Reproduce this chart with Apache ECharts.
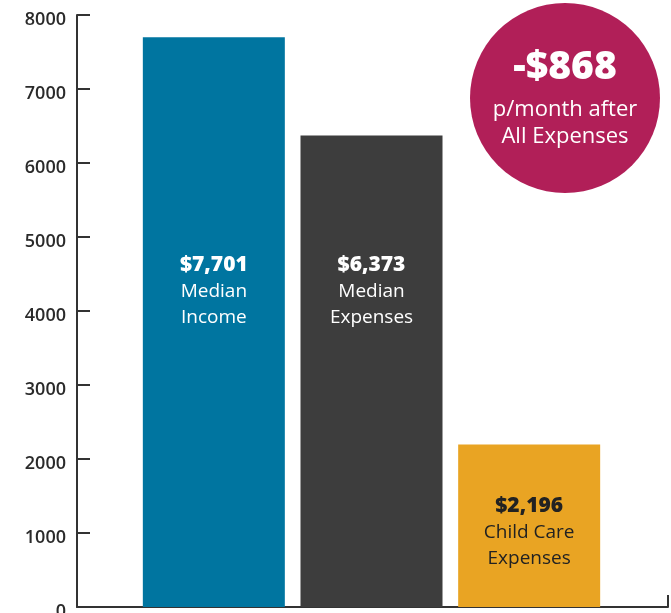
<!DOCTYPE html>
<html>
<head>
<meta charset="utf-8">
<script src="https://cdn.jsdelivr.net/npm/echarts@6/dist/echarts.min.js"></script>
<style>
  html, body { margin: 0; padding: 0; background: #fff; }
  #chart { width: 671px; height: 613px; }
</style>
</head>
<body>
<div id="chart"></div>
<script>
var amounts = ['$7,701', '$6,373', '$2,196'];
var categories = ['Median\nIncome', 'Median\nExpenses', 'Child Care\nExpenses'];
var values = [7701, 6373, 2196];
var barColors = ['#0075a0', '#3d3d3d', '#e9a423'];
var labelColors = ['#ffffff', '#ffffff', '#222222'];
var yTicks = [0, 8000, 1000]; // min, max, interval
var callout = ['-$868', 'p/month after', 'All Expenses'];

// label top offset from each bar's top edge (px)
var labelTop = [215, 117, 49];

var font = '"Open Sans", "Noto Sans", sans-serif';
var chart = echarts.init(document.getElementById('chart'));

var barData = values.map(function (v, i) {
  return {
    value: v,
    itemStyle: { color: barColors[i] },
    label: {
      position: ['50%', labelTop[i]],
      color: labelColors[i]
    }
  };
});

chart.setOption({
  animation: false,
  grid: [
    { left: 77, right: 3, top: 15, bottom: 6, outerBoundsMode: 'none' },
    { left: 135, right: 63, top: 15, bottom: 6, outerBoundsMode: 'none' }
  ],
  xAxis: [
    {
      gridIndex: 0, type: 'value', min: 0, max: 1, interval: 1,
      axisLine: { show: true, lineStyle: { color: '#333', width: 2 } },
      axisTick: { show: true, inside: true, length: 12, lineStyle: { color: '#333', width: 2 } },
      axisLabel: { show: false },
      splitLine: { show: false }
    },
    {
      gridIndex: 1, type: 'category', data: categories,
      axisLine: { show: false }, axisTick: { show: false },
      axisLabel: { show: false }
    }
  ],
  yAxis: [
    {
      gridIndex: 0, type: 'value', min: yTicks[0], max: yTicks[1], interval: yTicks[2],
      axisLine: { show: true, lineStyle: { color: '#333', width: 2 } },
      axisTick: { show: true, inside: true, length: 13, lineStyle: { color: '#333', width: 2 } },
      axisLabel: {
        color: '#2a2a2a', fontSize: 18, fontWeight: 600, fontFamily: font, margin: 11,
        verticalAlign: 'top', lineHeight: 10,
        formatter: function (v) { return String(v); }
      },
      splitLine: { show: false }
    },
    {
      gridIndex: 1, type: 'value', min: yTicks[0], max: yTicks[1],
      show: false, splitLine: { show: false }
    }
  ],
  series: [{
    type: 'bar',
    xAxisIndex: 1,
    yAxisIndex: 1,
    barWidth: 142,
    data: barData,
    label: {
      show: true,
      align: 'center',
      verticalAlign: 'top',
      fontFamily: font,
      formatter: function (p) {
        var lines = categories[p.dataIndex].split('\n');
        return '{v|' + amounts[p.dataIndex] + '}\n{t|' + lines[0] + '}\n{t|' + lines[1] + '}';
      },
      rich: {
        v: { fontSize: 21, fontWeight: 800, lineHeight: 26, fontFamily: font },
        t: { fontSize: 19, fontWeight: 400, lineHeight: 26, fontFamily: font }
      }
    }
  }],
  graphic: [{
    type: 'group',
    left: 470,
    top: 3,
    children: [
      { type: 'circle', shape: { cx: 95, cy: 95, r: 95 }, style: { fill: '#b11f58' } },
      { type: 'text', x: 95, y: 65, style: { text: callout[0], fill: '#fff', font: '800 39px ' + font, align: 'center', verticalAlign: 'middle' } },
      { type: 'text', x: 95, y: 107, style: { text: callout[1], fill: '#fff', font: '400 22px ' + font, align: 'center', verticalAlign: 'middle' } },
      { type: 'text', x: 95, y: 134, style: { text: callout[2], fill: '#fff', font: '400 22px ' + font, align: 'center', verticalAlign: 'middle' } }
    ]
  }]
});
</script>
</body>
</html>
